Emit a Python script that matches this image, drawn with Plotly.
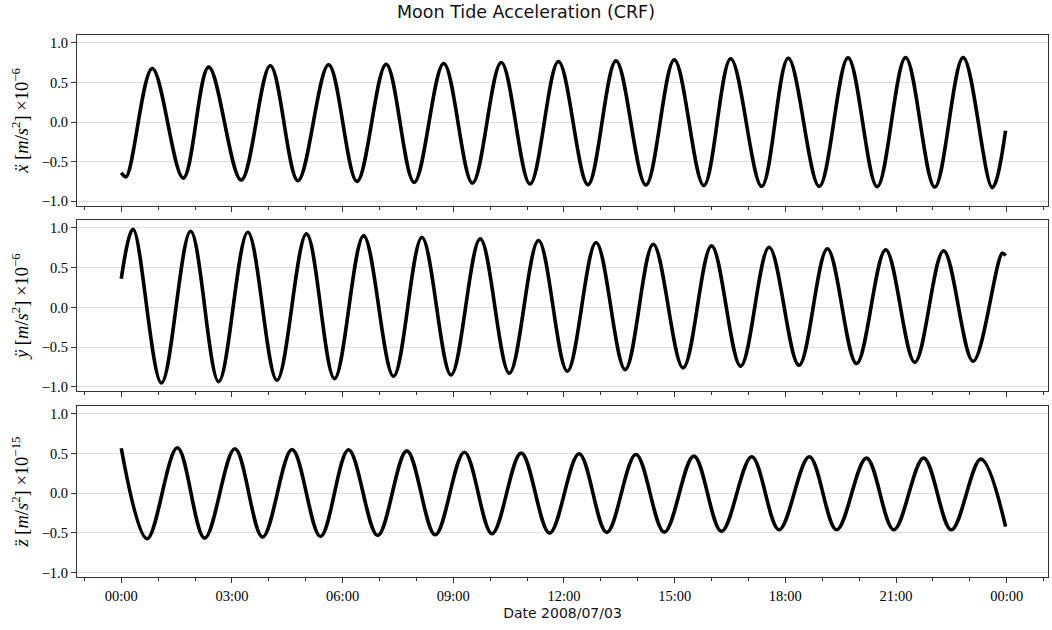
import pandas as pd
import plotly.graph_objects as go
from plotly.subplots import make_subplots

DATE = "2008-07-03"

# Panel 1: x-acceleration [1e-6 m/s^2] — hours after 00:00 and values read at turning points
ax_hours = [0.00, 0.13, 0.84, 1.68, 2.37, 3.25, 4.04, 4.79, 5.62, 6.39, 7.18, 7.94, 8.74, 9.52,
            10.30, 11.08, 11.85, 12.65, 13.41, 14.22, 14.99, 15.79, 16.52, 17.36, 18.08, 18.92,
            19.70, 20.49, 21.26, 22.05, 22.82, 23.61, 23.97]
ax_vals = [-0.64, -0.69, 0.678, -0.706, 0.694, -0.731, 0.711, -0.739, 0.724, -0.748, 0.731, -0.76,
           0.74, -0.769, 0.752, -0.781, 0.765, -0.789, 0.774, -0.794, 0.786, -0.80, 0.80, -0.81,
           0.806, -0.81, 0.811, -0.814, 0.815, -0.819, 0.815, -0.826, -0.11]

# Panel 2: y-acceleration [1e-6 m/s^2]
ay_hours = [0.00, 0.32, 1.09, 1.88, 2.64, 3.43, 4.22, 5.02, 5.78, 6.57, 7.38, 8.15, 8.94, 9.73,
            10.52, 11.31, 12.09, 12.87, 13.66, 14.42, 15.23, 16.00, 16.79, 17.56, 18.37, 19.14,
            19.93, 20.72, 21.51, 22.29, 23.09, 23.88, 23.97]
ay_vals = [0.36, 0.984, -0.95, 0.958, -0.933, 0.946, -0.916, 0.925, -0.895, 0.90, -0.865, 0.879,
           -0.849, 0.862, -0.827, 0.841, -0.802, 0.816, -0.782, 0.795, -0.76, 0.774, -0.739, 0.757,
           -0.727, 0.736, -0.706, 0.724, -0.689, 0.711, -0.676, 0.681, 0.652]

# Panel 3: z-acceleration [1e-15 m/s^2]
az_hours = [0.00, 0.70, 1.52, 2.26, 3.08, 3.83, 4.63, 5.40, 6.16, 6.95, 7.74, 8.51, 9.30, 10.05,
            10.84, 11.61, 12.41, 13.16, 13.95, 14.72, 15.52, 16.27, 17.09, 17.83, 18.65, 19.39,
            20.20, 20.94, 21.75, 22.50, 23.30, 23.97]
az_vals = [0.568, -0.573, 0.573, -0.565, 0.561, -0.552, 0.552, -0.544, 0.548, -0.531, 0.535, -0.523,
           0.518, -0.51, 0.506, -0.502, 0.498, -0.493, 0.489, -0.489, 0.468, -0.48, 0.46, -0.46,
           0.46, -0.46, 0.443, -0.46, 0.443, -0.46, 0.43, -0.42]

y_titles = [
    "<i>x\u0308</i> [<i>m</i>/<i>s</i><sup>2</sup>] ×10<sup>−6</sup>",
    "<i>y\u0308</i> [<i>m</i>/<i>s</i><sup>2</sup>] ×10<sup>−6</sup>",
    "<i>z\u0308</i> [<i>m</i>/<i>s</i><sup>2</sup>] ×10<sup>−15</sup>",
]
y_tickvals = [-1.0, -0.5, 0.0, 0.5, 1.0]
y_ticktext = ["−1.0", "−0.5", "0.0", "0.5", "1.0"]

TITLE = "Moon Tide Acceleration (CRF)"
X_TITLE = "Date 2008/07/03"

base = pd.Timestamp(DATE)
series = [(ax_hours, ax_vals), (ay_hours, ay_vals), (az_hours, az_vals)]

fig = make_subplots(rows=3, cols=1, shared_xaxes=True, vertical_spacing=0.03)

for i, (hrs, vals) in enumerate(series):
    t = base + pd.to_timedelta(hrs, unit="h")
    fig.add_trace(
        go.Scatter(
            x=t, y=vals, mode="lines",
            line=dict(color="black", width=3.6, shape="spline", smoothing=1.0),
            showlegend=False, hoverinfo="skip",
        ),
        row=i + 1, col=1,
    )

FRAME = "#333333"
TICKFONT = dict(family="Liberation Serif", size=14.5, color="black")
x_range = [base - pd.Timedelta(hours=1.2), base + pd.Timedelta(hours=25.12)]

domains = [[0.685, 1.0], [0.3426, 0.6587], [0.0, 0.3155]]

for r in range(1, 4):
    fig.update_xaxes(
        type="date", range=x_range, tick0=base, dtick=3 * 3600 * 1000, tickformat="%H:%M",
        showgrid=False, zeroline=False, showline=True, linecolor=FRAME, linewidth=1.2,
        mirror=True, ticks="outside", ticklen=5, tickwidth=1, tickcolor=FRAME,
        tickfont=TICKFONT,
        minor=dict(ticks="outside", dtick=3600 * 1000, tick0=base, ticklen=3,
                   tickwidth=1, tickcolor=FRAME, showgrid=False),
        row=r, col=1,
    )
    fig.update_yaxes(
        range=[-1.055, 1.1], tickvals=y_tickvals, ticktext=y_ticktext,
        showgrid=True, gridcolor="#dedede", gridwidth=1, zeroline=False,
        showline=True, linecolor=FRAME, linewidth=1.2, mirror=True,
        ticks="outside", ticklen=5, tickwidth=1, tickcolor=FRAME, tickfont=TICKFONT,
        title=dict(text=y_titles[r - 1], font=dict(family="Liberation Serif", size=18.5, color="black"),
                   standoff=8),
        domain=domains[r - 1],
        row=r, col=1,
    )

fig.update_xaxes(
    title=dict(text=X_TITLE, font=dict(family="DejaVu Sans", size=14, color="#111111"), standoff=5),
    row=3, col=1,
)

fig.update_layout(
    width=1052, height=630,
    margin=dict(l=77, r=4, t=35, b=53),
    paper_bgcolor="white", plot_bgcolor="white",
    title=dict(text=TITLE, x=0.5, xref="container", xanchor="center",
               y=1 - 12 / 630, yref="container", yanchor="middle",
               font=dict(family="DejaVu Sans", size=17.5, color="#111111")),
    showlegend=False,
)

fig.write_html("out.html")
